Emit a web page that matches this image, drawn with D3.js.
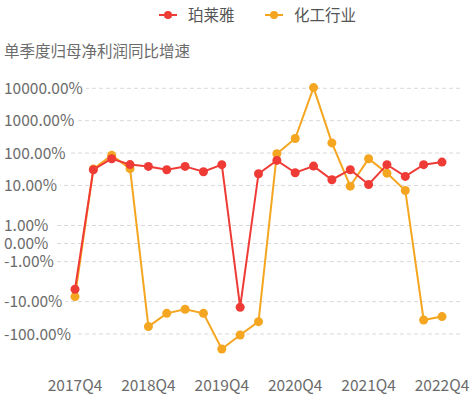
<!DOCTYPE html>
<html>
<head>
<meta charset="utf-8">
<script src="https://cdn.jsdelivr.net/npm/d3@7"></script>
<style>
  body { margin: 0; background: #fff; }
  svg { display: block; font-family: "Noto Sans CJK SC", "Noto Sans", sans-serif; }
</style>
</head>
<body>
<div id="chart"></div>
<script>
// quarters 2017Q4 .. 2022Q4
const quarters = [
  '2017Q4',
  '2018Q1', '2018Q2', '2018Q3', '2018Q4',
  '2019Q1', '2019Q2', '2019Q3', '2019Q4',
  '2020Q1', '2020Q2', '2020Q3', '2020Q4',
  '2021Q1', '2021Q2', '2021Q3', '2021Q4',
  '2022Q1', '2022Q2', '2022Q3', '2022Q4'
];
const xTickLabels = ['2017Q4', '2018Q4', '2019Q4', '2020Q4', '2021Q4', '2022Q4'];

// growth, %
const proya = [-4.9, 30.6, 67, 44, 38.7, 30.6, 38.7, 26.5, 43.8, -14.9, 23, 59.4, 24.7, 39.6, 15, 30.6, 10.7, 43.8, 19, 43.8, 52.6];
const chemical = [-7.5, 32, 85, 33, -59, -23, -17.2, -23, -291, -107, -41.6, 95.7, 282, 10500, 206, 9.6, 67, 24, 7.5, -36.9, -29];

const yTicks = [10000, 1000, 100, 10, 1, 0, -1, -10, -100];

const seriesNames = ['珀莱雅', '化工行业'];
const colors = ['#ef3b36', '#f4a620'];
const chartTitle = '单季度归母净利润同比增速';

const width = 474, height = 397;

// piecewise log-like transform: linear inside +-1%, wider first decade, then even decades
function tr(v) {
  const a = Math.abs(v), s = Math.sign(v);
  if (a <= 1) return v;
  if (a <= 10) return s * (1 + Math.log10(a) * 2.22);
  return s * (1 + 2.22 + (Math.log10(a) - 1) * 1.795);
}

const svg = d3.select('#chart').append('svg')
  .attr('width', width)
  .attr('height', height);

const x = d3.scalePoint()
  .domain(quarters)
  .range([75, 442]);

const y = d3.scaleLinear()
  .domain([tr(-100), tr(10000)])
  .range([334, 88.3]);

// grid lines
svg.append('g')
  .selectAll('line')
  .data(yTicks)
  .join('line')
    .attr('x1', 57)
    .attr('x2', 460)
    .attr('y1', d => y(tr(d)))
    .attr('y2', d => y(tr(d)))
    .attr('stroke', '#d9d9d9')
    .attr('stroke-width', 1)
    .attr('stroke-dasharray', '4,3');

// y labels with white backing
const yl = svg.append('g')
  .selectAll('g')
  .data(yTicks)
  .join('g')
    .attr('transform', d => `translate(4,${y(tr(d))})`);
const bg = yl.append('rect').attr('fill', '#fff');
yl.append('text')
  .attr('dy', '0.36em')
  .attr('font-size', '15.5px')
  .attr('fill', '#6b6b6b')
  .text(d => d.toFixed(2) + '%');
yl.each(function () {
  const g = d3.select(this);
  const w = g.select('text').node().getComputedTextLength();
  g.select('rect').attr('x', -2).attr('y', -9).attr('width', w + 5).attr('height', 18);
});

// x labels
svg.append('g')
  .selectAll('text')
  .data(xTickLabels)
  .join('text')
    .attr('x', d => x(d))
    .attr('y', 391)
    .attr('text-anchor', 'middle')
    .attr('font-size', '15.5px')
    .attr('fill', '#6b6b6b')
    .text(d => d);

// title
svg.append('text')
  .attr('x', 4)
  .attr('y', 57)
  .attr('font-size', '15.5px')
  .attr('fill', '#6b6b6b')
  .text(chartTitle);

// series: orange below, red on top
const series = [
  { name: seriesNames[1], values: chemical, color: colors[1] },
  { name: seriesNames[0], values: proya, color: colors[0] }
];

const line = d3.line()
  .x((d, i) => x(quarters[i]))
  .y(d => y(tr(d)));

series.forEach(s => {
  const g = svg.append('g');
  g.append('path')
    .datum(s.values)
    .attr('fill', 'none')
    .attr('stroke', s.color)
    .attr('stroke-width', 2)
    .attr('d', line);
  g.selectAll('circle')
    .data(s.values)
    .join('circle')
      .attr('cx', (d, i) => x(quarters[i]))
      .attr('cy', d => y(tr(d)))
      .attr('r', 4.5)
      .attr('fill', s.color);
});

// legend
const legend = svg.append('g')
  .selectAll('g')
  .data(seriesNames)
  .join('g')
    .attr('transform', (d, i) => `translate(${[168, 274][i]},15)`);
legend.append('line')
  .attr('x1', -9).attr('x2', 9)
  .attr('stroke', (d, i) => colors[i])
  .attr('stroke-width', 2);
legend.append('circle')
  .attr('r', 4)
  .attr('fill', (d, i) => colors[i]);
legend.append('text')
  .attr('x', 20)
  .attr('dy', '0.36em')
  .attr('font-size', '15.5px')
  .attr('fill', '#555')
  .text(d => d);
</script>
</body>
</html>
